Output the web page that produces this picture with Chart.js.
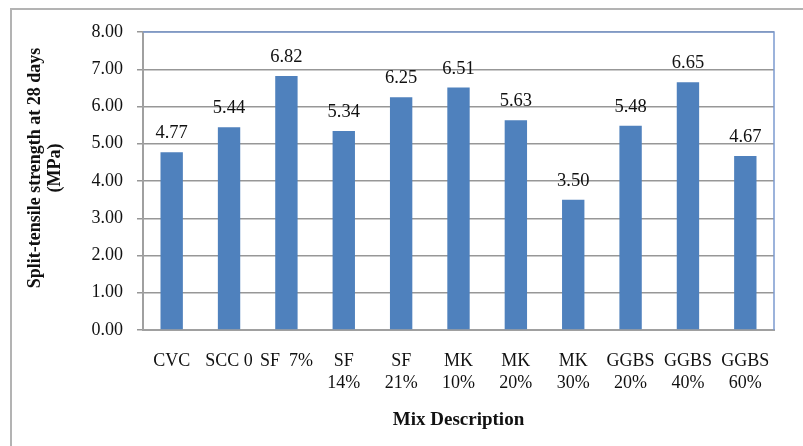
<!DOCTYPE html>
<html>
<head>
<meta charset="utf-8">
<style>
  html, body { margin: 0; padding: 0; background: #ffffff; }
  #wrap { position: relative; width: 803px; height: 446px; }
</style>
<script src="https://cdn.jsdelivr.net/npm/chart.js@4/dist/chart.umd.min.js"></script>
</head>
<body>
<div id="wrap"><canvas id="chart" width="803" height="446"></canvas></div>
<script>
// Mix designs on the category axis (multi-line labels)
const categories = [
  ["CVC"], ["SCC 0"], ["SF  7%"], ["SF", "14%"], ["SF", "21%"],
  ["MK", "10%"], ["MK", "20%"], ["MK", "30%"],
  ["GGBS", "20%"], ["GGBS", "40%"], ["GGBS", "60%"]
];
// Split-tensile strength at 28 days, MPa
const strength = [4.77, 5.44, 6.82, 5.34, 6.25, 6.51, 5.63, 3.50, 5.48, 6.65, 4.67];
// Value axis range and step
const yMin = 0;
const yMax = 8;
const yStep = 1;

const yTitleLines = ["Split-tensile strength at 28 days", "(MPa)"];
const xTitle = "Mix Description";

const SERIF = "'Liberation Serif', 'Times New Roman', serif";
const TEXT = "#111111";

// Outer frame, plot border, value labels and axis titles
const decorations = {
  id: "decorations",
  beforeDraw(chart) {
    const ctx = chart.ctx;
    ctx.save();
    ctx.strokeStyle = "#b3b3b3";
    ctx.lineWidth = 2;
    ctx.beginPath();
    ctx.moveTo(11, 446);
    ctx.lineTo(11, 9);
    ctx.lineTo(803, 9);
    ctx.stroke();
    ctx.restore();
  },
  afterDatasetsDraw(chart) {
    const ctx = chart.ctx;
    const a = chart.chartArea;
    ctx.save();
    ctx.strokeStyle = "#7c9bd0";
    ctx.lineWidth = 1.5;
    ctx.beginPath();
    ctx.moveTo(a.left, a.top);
    ctx.lineTo(a.right, a.top);
    ctx.lineTo(a.right, a.bottom);
    ctx.stroke();

    // value above each bar
    ctx.fillStyle = TEXT;
    ctx.font = "18.5px " + SERIF;
    ctx.textAlign = "center";
    ctx.textBaseline = "alphabetic";
    const meta = chart.getDatasetMeta(0);
    meta.data.forEach((bar, i) => {
      ctx.fillText(strength[i].toFixed(2), bar.x, bar.y - 14);
    });
    ctx.restore();
  },
  afterDraw(chart) {
    const ctx = chart.ctx;
    const a = chart.chartArea;
    ctx.save();
    ctx.fillStyle = TEXT;
    ctx.textAlign = "center";
    ctx.textBaseline = "middle";

    // value axis title, two rotated lines
    ctx.font = "bold 18px " + SERIF;
    const xs = [35, 55];
    yTitleLines.forEach((line, i) => {
      ctx.save();
      ctx.translate(xs[i], 168);
      ctx.rotate(-Math.PI / 2);
      ctx.fillText(line, 0, 0);
      ctx.restore();
    });

    // category axis title
    ctx.font = "bold 19px " + SERIF;
    ctx.fillText(xTitle, (a.left + a.right) / 2, 420);
    ctx.restore();
  }
};

new Chart(document.getElementById("chart"), {
  type: "bar",
  data: {
    labels: categories,
    datasets: [{
      data: strength,
      backgroundColor: "#4f81bd",
      borderWidth: 0,
      categoryPercentage: 1.0,
      barPercentage: 0.39
    }]
  },
  options: {
    responsive: false,
    animation: false,
    layout: { padding: { left: 0, right: 29, top: 32, bottom: 0 } },
    plugins: {
      legend: { display: false },
      tooltip: { enabled: false },
      title: { display: false }
    },
    scales: {
      x: {
        offset: true,
        grid: { display: false, drawTicks: false },
        border: { display: true, color: "#a0a0a0", width: 2 },
        ticks: {
          color: TEXT,
          font: { family: SERIF, size: 18, lineHeight: 1.25 },
          padding: 20,
          maxRotation: 0,
          minRotation: 0,
          autoSkip: false
        },
        afterFit(scale) { scale.height = 116; }
      },
      y: {
        min: yMin,
        max: yMax,
        grid: { color: "#979797", lineWidth: 1.5, tickLength: 6, drawTicks: true },
        border: { display: true, color: "#a0a0a0", width: 2 },
        ticks: {
          stepSize: yStep,
          color: TEXT,
          font: { family: SERIF, size: 18 },
          padding: 14,
          callback: (v) => Number(v).toFixed(2)
        },
        afterFit(scale) { scale.width = 143; }
      }
    }
  },
  plugins: [decorations]
});
</script>
</body>
</html>
